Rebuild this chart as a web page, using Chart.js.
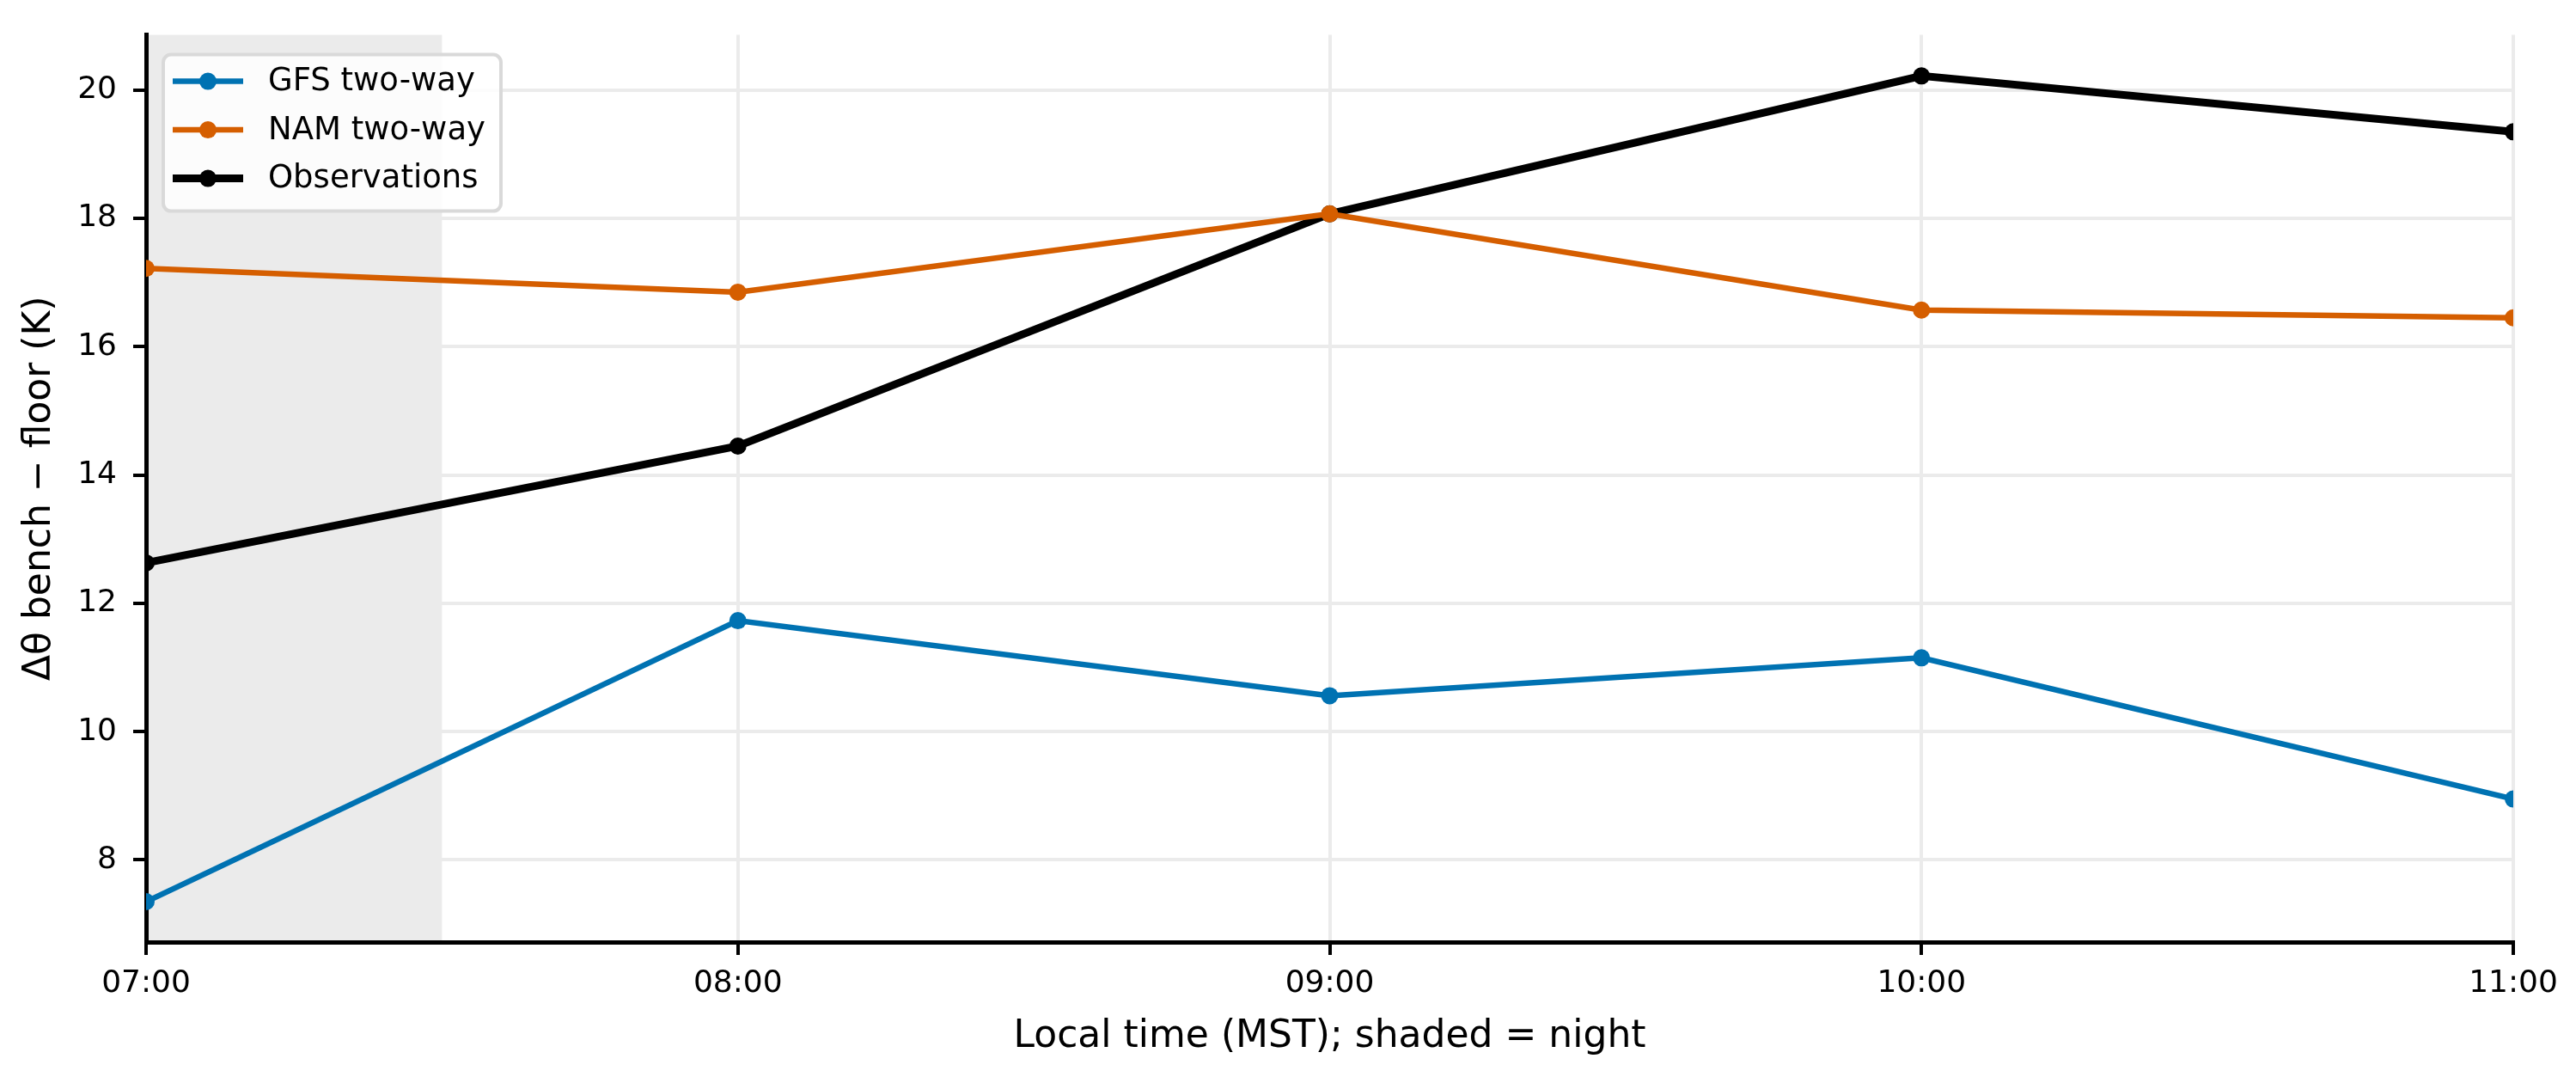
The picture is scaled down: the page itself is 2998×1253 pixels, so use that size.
<!DOCTYPE html>
<html>
<head>
<meta charset="utf-8">
<script src="https://cdn.jsdelivr.net/npm/chart.js@4/dist/chart.umd.min.js"></script>
<style>
  html, body { margin: 0; padding: 0; background: #fff; }
  #wrap { width: 2998px; height: 1253px; }
</style>
</head>
<body>
<div id="wrap"><canvas id="myChart" width="2998" height="1253"></canvas></div>
<script>
// hours (local time, MST)
var hours = [7, 8, 9, 10, 11];
var tickLabels = ['07:00', '08:00', '09:00', '10:00', '11:00'];

// delta theta bench - floor (K)
var gfsTwoWay = [7.35, 11.73, 10.56, 11.15, 8.95];
var namTwoWay = [17.22, 16.85, 18.07, 16.57, 16.45];
var observations = [12.63, 14.45, 18.07, 20.22, 19.35];
var yTicks = [8, 10, 12, 14, 16, 18, 20];

// night period (shaded)
var nightStart = 7;
var nightEnd = 7.5;

function toPoints(ys) {
  return hours.map(function (h, i) { return { x: h, y: ys[i] }; });
}

var FONT = "'DejaVu Sans', sans-serif";

// Shaded night band, drawn under the grid
var nightShade = {
  id: 'nightShade',
  beforeDraw: function (chart) {
    var c = chart.ctx, a = chart.chartArea, x = chart.scales.x;
    c.save();
    c.fillStyle = '#ebebeb';
    var x0 = x.getPixelForValue(nightStart);
    var x1 = x.getPixelForValue(nightEnd);
    c.fillRect(x0, a.top, x1 - x0, a.bottom - a.top);
    c.restore();
  }
};

// Legend box in the upper left of the plot
var boxLegend = {
  id: 'boxLegend',
  afterDraw: function (chart) {
    var c = chart.ctx, a = chart.chartArea;
    var bx = a.left + 20, by = a.top + 23, bw = 393, bh = 182;
    c.save();
    c.fillStyle = 'rgba(255,255,255,0.85)';
    c.strokeStyle = '#d9d9d9';
    c.lineWidth = 4;
    c.beginPath();
    c.roundRect(bx, by, bw, bh, 9);
    c.fill();
    c.stroke();
    c.font = '37px ' + FONT;
    c.textBaseline = 'middle';
    chart.data.datasets.forEach(function (ds, i) {
      var y = by + 31 + i * 56.5;
      c.strokeStyle = ds.borderColor;
      c.lineWidth = ds.borderWidth;
      c.beginPath();
      c.moveTo(bx + 11, y);
      c.lineTo(bx + 93, y);
      c.stroke();
      c.fillStyle = ds.borderColor;
      c.beginPath();
      c.arc(bx + 52, y, 10, 0, Math.PI * 2);
      c.fill();
      c.fillStyle = '#000';
      c.fillText(ds.label, bx + 122, y + 1);
    });
    c.restore();
  }
};

var ctx = document.getElementById('myChart').getContext('2d');

var data = {
  datasets: [
    {
      label: 'GFS two-way',
      data: toPoints(gfsTwoWay),
      borderColor: '#0072B2',
      backgroundColor: '#0072B2',
      borderWidth: 6.5,
      pointRadius: 10,
      pointBorderWidth: 0,
    },
    {
      label: 'NAM two-way',
      data: toPoints(namTwoWay),
      borderColor: '#D55E00',
      backgroundColor: '#D55E00',
      borderWidth: 6.5,
      pointRadius: 10,
      pointBorderWidth: 0,
    },
    {
      label: 'Observations',
      data: toPoints(observations),
      borderColor: '#000000',
      backgroundColor: '#000000',
      borderWidth: 9,
      pointRadius: 10,
      pointBorderWidth: 0,
    },
  ],
};

var options = {
  responsive: false,
  animation: false,
  layout: { padding: { left: 0, right: 73, top: 34, bottom: 0 } },
  plugins: {
    legend: { display: false },
    tooltip: { enabled: false },
  },
  scales: {
    x: {
      type: 'linear',
      min: 7,
      max: 11,
      afterBuildTicks: function (s) {
        s.ticks = hours.map(function (h) { return { value: h }; });
      },
      afterFit: function (s) { s.height = 157; },
      ticks: {
        callback: function (v) { return tickLabels[hours.indexOf(v)]; },
        font: { family: FONT, size: 36 },
        color: '#000',
        padding: 12,
        maxRotation: 0,
      },
      grid: {
        color: '#ebebeb',
        lineWidth: 4,
        tickColor: '#000',
        tickLength: 15,
        tickWidth: 4,
      },
      border: { color: '#000', width: 5 },
      title: {
        display: true,
        text: 'Local time (MST); shaded = night',
        font: { family: FONT, size: 44 },
        color: '#000',
        padding: { top: 0, bottom: 20 },
      },
    },
    y: {
      min: 6.72,
      max: 20.86,
      afterBuildTicks: function (s) {
        s.ticks = yTicks.map(function (v) { return { value: v }; });
      },
      afterFit: function (s) { s.width = 170; },
      ticks: {
        font: { family: FONT, size: 36 },
        color: '#000',
        padding: 19,
      },
      grid: {
        color: '#ebebeb',
        lineWidth: 4,
        tickColor: '#000',
        tickLength: 15,
        tickWidth: 4,
      },
      border: { color: '#000', width: 5 },
      title: {
        display: true,
        text: 'Δθ bench − floor (K)',
        font: { family: FONT, size: 44 },
        color: '#000',
        padding: { top: 20, bottom: 0 },
      },
    },
  },
};

var myChart = new Chart(ctx, {
  type: 'line',
  data: data,
  options: options,
  plugins: [nightShade, boxLegend],
});
</script>
</body>
</html>
